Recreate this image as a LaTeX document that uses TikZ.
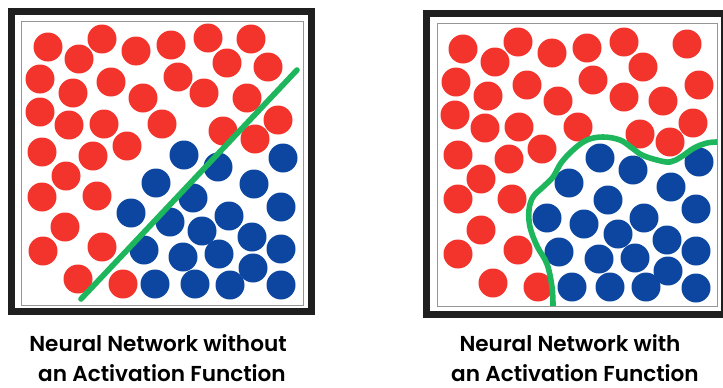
\documentclass[tikz,border=0pt]{standalone}
\usepackage{fontspec}
\setmainfont{Poppins}[BoldFont={Poppins SemiBold}]
\definecolor{dotred}{RGB}{242,52,44}
\definecolor{dotblue}{RGB}{12,70,160}
\definecolor{splitgreen}{RGB}{30,182,92}
\definecolor{framegray}{RGB}{150,150,150}
\tikzset{
  outerframe/.style={draw=black!88, line width=3.5pt},
  innerframe/.style={draw=framegray, line width=0.5pt},
  reddot/.style={fill=dotred},
  bluedot/.style={fill=dotblue},
  splitline/.style={draw=splitgreen, line width=2.8pt, line cap=round},
  caption/.style={anchor=base, inner sep=0pt, text depth=0pt, font=\bfseries\fontsize{10.8}{12}\selectfont}
}
\begin{document}
\begin{tikzpicture}[x=0.5pt, y=-0.5pt]

  \useasboundingbox (0,0) rectangle (723,387);

  % -- Left panel: frame --
  \draw[outerframe] (11.5,11.5) rectangle (311.5,311.5);
  \draw[innerframe] (21,21) rectangle (303,305);

  % -- Left panel: red points --
  \foreach \px/\py in {48/47, 79/59, 102/39, 136/51, 171/45, 208/38, 251/39,
      227/63, 268/67, 40/79, 73/93, 111/82, 143/98, 178/77, 204/93, 247/98,
      40/112, 69/125, 104/124, 162/124, 278/120, 223/131, 255/139, 127/146,
      42/152, 93/156, 66/176, 42/197, 97/196, 65/227, 43/251, 102/247,
      78/279, 123/284}
    \fill[reddot] (\px,\py) circle (14.5);

  % -- Left panel: blue points --
  \foreach \px/\py in {184/155, 218/167, 283/158, 156/183, 254/184, 193/198,
      281/207, 131/213, 170/222, 229/216, 202/231, 252/237, 144/250, 183/257,
      219/254, 281/249, 253/268, 155/284, 195/284, 230/285, 281/285}
    \fill[bluedot] (\px,\py) circle (14.5);

  % -- Left panel: linear boundary --
  \draw[splitline] (81,299) -- (297,70);

  % -- Right panel: frame --
  \draw[outerframe] (426.5,13.5) rectangle (724.5,314.5);
  \draw[innerframe] (437,23) rectangle (717,306);

  % -- Right panel: red points --
  \foreach \px/\py in {463/49, 495/62, 518/42, 552/53, 587/48, 624/42, 687/44,
      643/67, 456/82, 488/96, 527/85, 558/101, 593/80, 624/97, 663/101, 699/85,
      455/115, 485/128, 519/127, 578/127, 640/134, 670/142, 693/123, 542/149,
      458/155, 509/159, 481/179, 458/199, 512/199, 481/230, 458/254, 518/250,
      493/283, 538/287}
    \fill[reddot] (\px,\py) circle (14.5);

  % -- Right panel: blue points --
  \foreach \px/\py in {600/158, 633/170, 699/162, 569/183, 671/187, 608/200,
      696/209, 547/218, 584/224, 644/218, 618/234, 667/240, 559/252, 599/259,
      635/258, 696/251, 668/271, 572/287, 610/287, 646/287, 696/288}
    \fill[bluedot] (\px,\py) circle (14.5);

  % -- Right panel: curved boundary --
  \draw[splitline, line cap=butt] plot[smooth, tension=0.6] coordinates {
      (553,306) (552,287) (547,264) (537,246) (530,227) (529,210) (533,197)
      (543,187) (553,177) (561,163) (573,150) (587,140) (603,137) (620,140)
      (632,148) (642,155) (657,160) (670,162) (681,157) (694,148) (707,143)
      (717,142)};

  % -- Captions --
  \node[caption] (capleftA) at (158,351) {Neural Network without};
  \node[caption] (capleftB) at (162,381) {an Activation Function};
  \node[caption] (caprightA) at (570,351) {Neural Network with};
  \node[caption] (caprightB) at (575,381) {an Activation Function};

\end{tikzpicture}
\end{document}
